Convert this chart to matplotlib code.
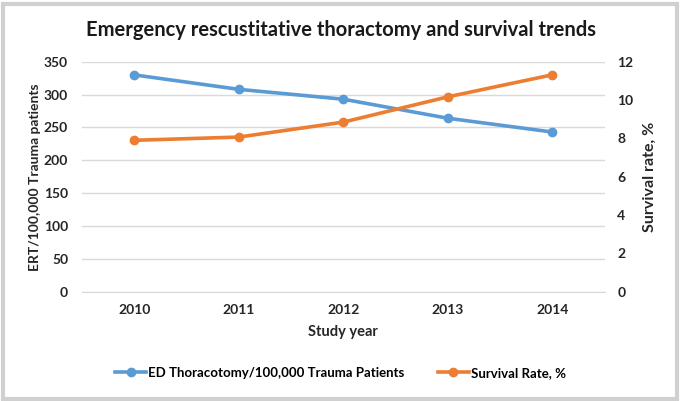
import matplotlib
matplotlib.use("Agg")
import matplotlib.pyplot as plt
from matplotlib.patches import Rectangle
from matplotlib.lines import Line2D

years = ["2010", "2011", "2012", "2013", "2014"]
ert_rate = [330, 308, 293, 264, 243]
survival = [7.9, 8.07, 8.85, 10.17, 11.32]

plt.rcParams['font.family'] = ['Lato', 'DejaVu Sans']
plt.rcParams['font.weight'] = 'bold'

blue = '#5B9BD5'
orange = '#ED7D31'
grid = '#D9D9D9'
txt = '#262626'

fig = plt.figure(figsize=(6.81, 4.01), dpi=100)
fig.patches.append(Rectangle((0.004, 0.006), 0.99, 0.985, transform=fig.transFigure,
                             fill=False, edgecolor='#D0D0D0', linewidth=3))

ax = fig.add_axes([0.1204, 0.2726, 0.7676, 0.5734])
ax2 = ax.twinx()

x = list(range(len(years)))
ax.plot(x, ert_rate, color=blue, lw=2.6, marker='o', ms=6, zorder=3)
ax2.plot(x, survival, color=orange, lw=2.6, marker='o', ms=6, zorder=3)

ax.set_xlim(-0.5, len(years) - 0.5)
ax.set_ylim(0, 350)
ax.set_yticks(range(0, 351, 50))
ax2.set_ylim(0, 12)
ax2.set_yticks(range(0, 13, 2))
ax.set_xticks(x)
ax.set_xticklabels(years)

ax.yaxis.grid(True, color=grid, lw=1)
ax.set_axisbelow(True)
for a in (ax, ax2):
    for s in a.spines.values():
        s.set_visible(False)
    a.tick_params(length=0, labelsize=10, colors=txt)
ax.spines['bottom'].set_visible(True)
ax.spines['bottom'].set_color(grid)
ax.tick_params(axis='x', pad=9)
ax.tick_params(axis='y', pad=10)
ax2.tick_params(axis='y', pad=9)

ax.set_xlabel("Study year", fontsize=10.5, fontweight='bold', color=txt, labelpad=6)
ax.set_ylabel("ERT/100,000 Trauma patients", fontsize=10, fontweight='bold', color=txt)
ax2.set_ylabel("Survival rate, %", fontsize=11.5, fontweight='bold', color=txt)
ax.yaxis.set_label_coords(-0.078, 0.5)
ax2.yaxis.set_label_coords(1.0727, 0.5)

fig.text(0.5, 0.925, "Emergency rescustitative thoractomy and survival trends",
         ha='center', va='center', fontsize=14.5, fontweight='bold', color='#1a1a1a')

handles = [Line2D([], [], color=blue, lw=2.6, marker='o', ms=6),
           Line2D([], [], color=orange, lw=2.6, marker='o', ms=6)]
fig.legend(handles, ["ED Thoracotomy/100,000 Trauma Patients", "Survival Rate, %"],
           loc='center', bbox_to_anchor=(0.5, 0.07), ncol=2, frameon=False,
           fontsize=9.5, handlelength=2.3, handletextpad=0.15, columnspacing=2.6)

fig.savefig("out.png", dpi=100)
